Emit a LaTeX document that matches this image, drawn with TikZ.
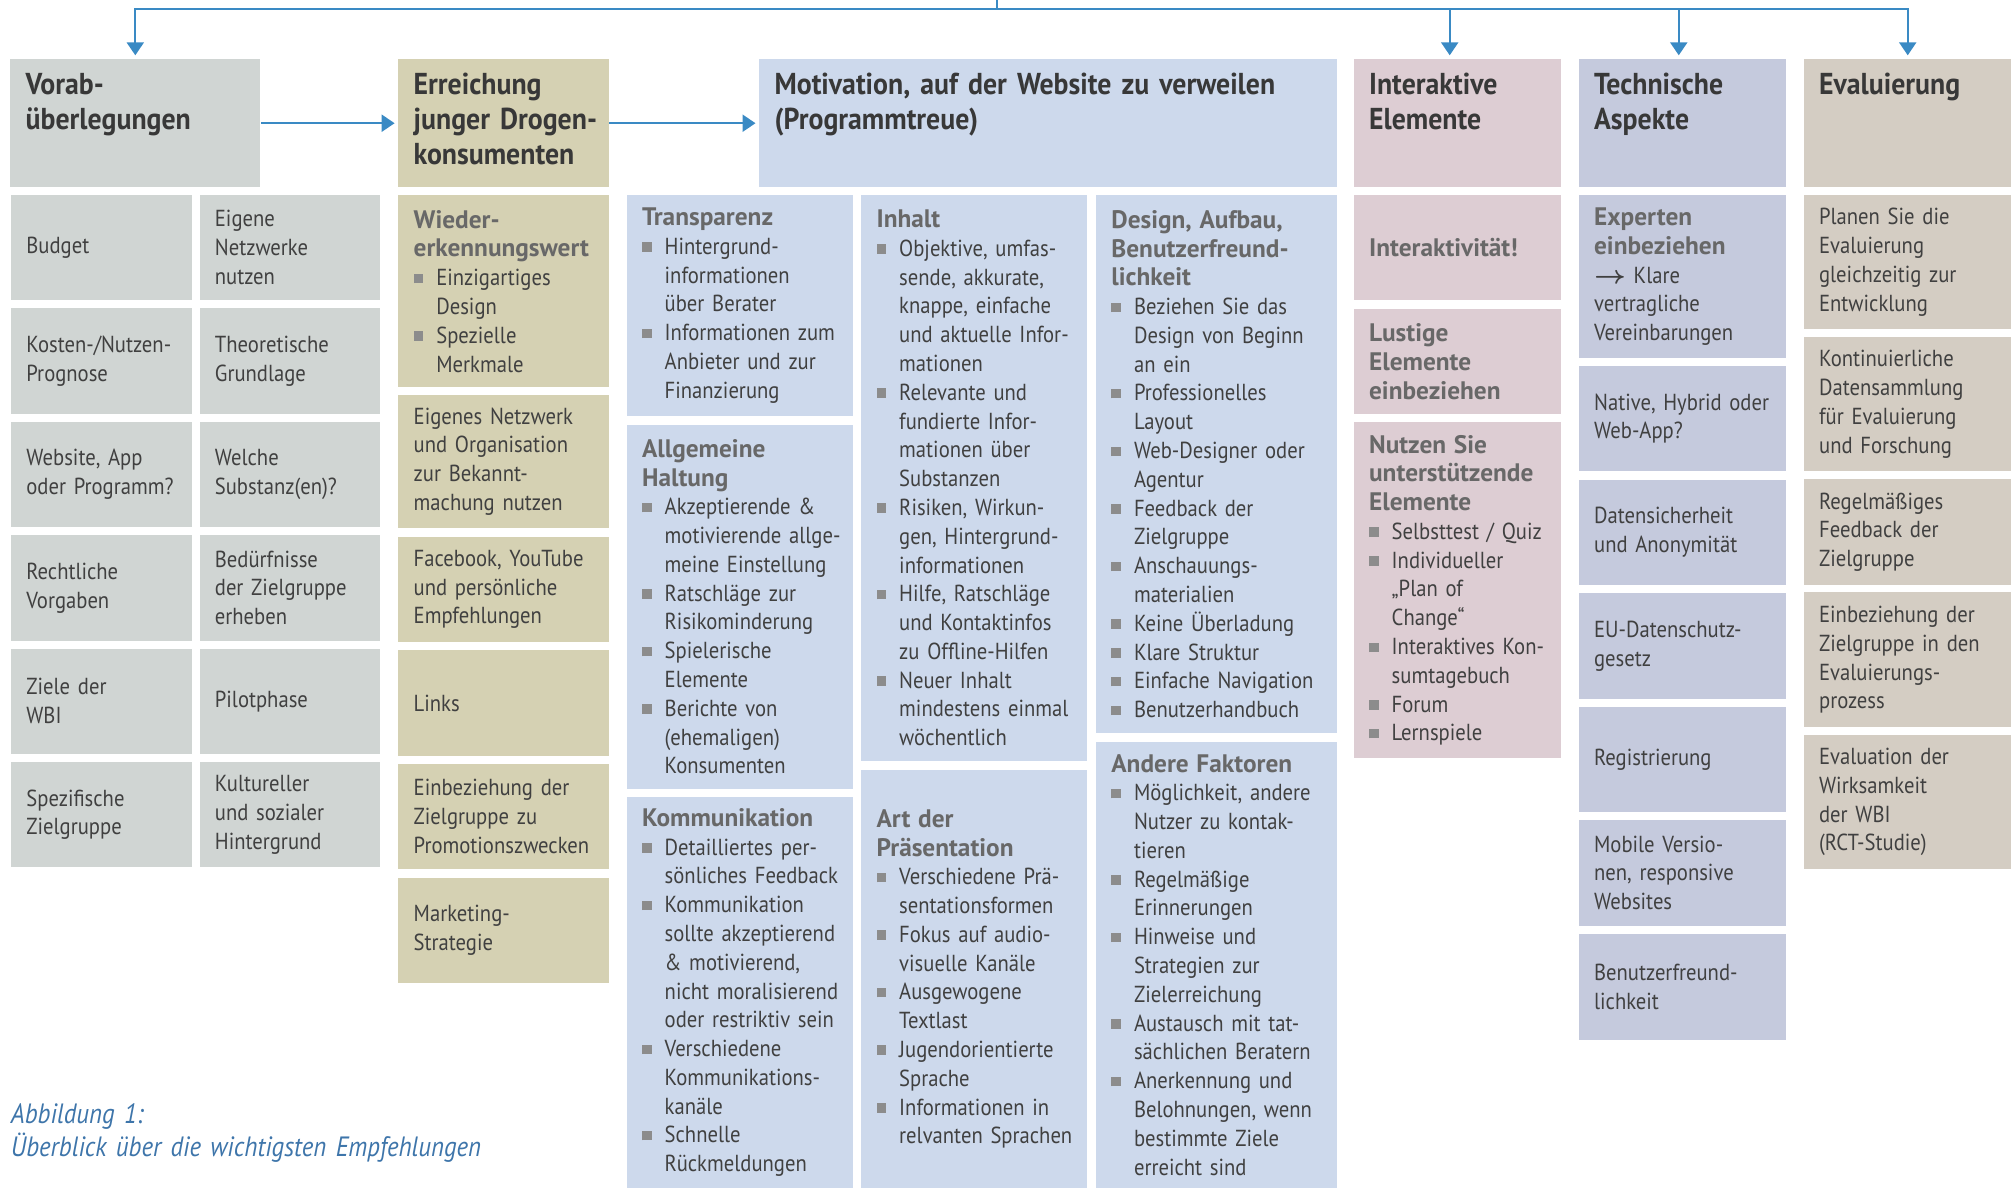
\documentclass[tikz,border=0pt]{standalone}
\usepackage{amsmath}
\usepackage{fontspec}
\setmainfont{PT Sans}[FakeStretch=0.89]
\newfontfamily\headfont{PT Sans}[FakeStretch=0.92]
\newfontfamily\subfont{PT Sans}[FakeStretch=1.0]
\usetikzlibrary{arrows.meta}
\hyphenpenalty=10000
\exhyphenpenalty=10000

\definecolor{vorabc}{HTML}{D0D5D3}
\definecolor{errc}{HTML}{D5D1B3}
\definecolor{motc}{HTML}{CDD9EC}
\definecolor{interc}{HTML}{DDCDD3}
\definecolor{techc}{HTML}{C5CADD}
\definecolor{evalc}{HTML}{D4CDC3}
\definecolor{arrowc}{HTML}{3A8AC4}
\definecolor{capc}{HTML}{3E75AA}
\definecolor{hdtxt}{HTML}{383838}
\definecolor{bodytxt}{HTML}{404040}
\definecolor{subc}{HTML}{686868}
\definecolor{bulc}{HTML}{8C8C8C}

% Aufzaehlungspunkt und Zwischentitel
\newcommand\bl[1]{\par\hangindent=2.26mm\hangafter=1\noindent
  \makebox[2.26mm][l]{\textcolor{bulc}{\rule[0.25mm]{0.95mm}{0.95mm}}}{\let\\\newline #1}\par}
\newcommand\subhd[1]{{\color{subc}\subfont\bfseries\fontsize{7.2}{8.19}\selectfont #1\par}}

\begin{document}
\begin{tikzpicture}[x=0.1mm, y=-0.1mm, >={Triangle[length=1.3mm,width=1.7mm]},
  conn/.style={draw=arrowc, line width=0.65pt},
  arr/.style={conn, ->, shorten >=0.3mm},
  head/.style={anchor=north west, inner sep=0pt, align=left,
    text height=3.5mm, text depth=9.34mm,
    execute at begin node={\leftskip=1.54mm},
    font=\headfont\bfseries\fontsize{8.6}{9.96}\selectfont, text=hdtxt},
  cell/.style={anchor=north west, inner sep=0pt, align=left,
    minimum height=10.53mm, execute at begin node={\leftskip=1.54mm},
    font=\fontsize{6.6}{8.19}\selectfont, text=bodytxt},
  vcell/.style={cell, fill=vorabc, text width=18.08mm},
  ecell/.style={cell, fill=errc, text width=21.03mm},
  mcell/.style={cell, fill=motc, text width=22.6mm},
  dcell/.style={cell, fill=motc, text width=24.12mm},
  icell/.style={cell, fill=interc, text width=20.7mm},
  tcell/.style={cell, fill=techc, text width=20.75mm},
  evcell/.style={cell, fill=evalc, text width=20.8mm}]
\useasboundingbox (0,0) rectangle (2011,1187);

% Kopfzeile
\node[head, fill=vorabc, text width=25.0mm] (vorabH) at (9.6,58.3) {Vorab-\\überlegungen};
\node[head, fill=errc, text width=21.03mm] (erreH) at (397.6,58.3) {Erreichung\\junger Drogen-\\konsumenten};
\node[head, fill=motc, text width=57.8mm] (motH) at (758.5,58.3) {Motivation, auf der Website zu verweilen\\(Programmtreue)};
\node[head, fill=interc, text width=20.7mm] (interH) at (1353,58.3) {Interaktive\\Elemente};
\node[head, fill=techc, text width=20.75mm] (techH) at (1578,58.3) {Technische\\Aspekte};
\node[head, fill=evalc, text width=20.8mm] (evalH) at (1803,58.3) {Evaluierung};

% Pfeile
\coordinate (quelle) at (996.7,0);
\coordinate (bus) at (996.7,9);
\draw[conn] (quelle) -- (bus);
\draw[arr] (bus) -| (vorabH.north);
\draw[arr] (bus) -| ([xshift=-0.75mm]interH.north);
\draw[arr] (bus) -| ([xshift=-0.37mm]techH.north);
\draw[arr] (bus) -| (evalH.north);
\draw[arr] (vorabH.east) -- (erreH.west);
\draw[arr] (erreH.east) -- (motH.west);

% Vorabueberlegungen
\node[vcell] (budget) at (10.3,194.3) {Budget};
\node[vcell] (netzwerke) at (198.8,194.3) {Eigene\\Netzwerke\\nutzen};
\node[vcell] (kosten) at (10.3,307.7) {Kosten-/Nutzen-\\Prognose};
\node[vcell] (theorie) at (198.8,307.7) {Theoretische\\Grundlage};
\node[vcell] (website) at (10.3,421.1) {Website, App\\oder Programm?};
\node[vcell] (substanz) at (198.8,421.1) {Welche\\Substanz(en)?};
\node[vcell] (recht) at (10.3,534.5) {Rechtliche\\Vorgaben};
\node[vcell] (beduerf) at (198.8,534.5) {Bedürfnisse\\der Zielgruppe\\erheben};
\node[vcell] (ziele) at (10.3,647.9) {Ziele der\\WBI};
\node[vcell] (pilot) at (198.8,647.9) {Pilotphase};
\node[vcell] (zielgr) at (10.3,761.3) {Spezifische\\Zielgruppe};
\node[vcell] (kultur) at (198.8,761.3) {Kultureller\\und sozialer\\Hintergrund};

% Erreichung
\node[ecell, minimum height=19.24mm] (wieder) at (397.6,194.3) {\subhd{Wieder-\\erkennungswert}\bl{Einzigartiges\\Design}\bl{Spezielle\\Merkmale}};
\node[ecell, minimum height=13.3mm] (eignetz) at (397.6,394.3) {Eigenes Netzwerk\\und Organisation\\zur Bekannt-\\machung nutzen};
\node[ecell, minimum height=10.58mm] (facebook) at (397.6,535.8) {Facebook, YouTube\\und persönliche\\Empfehlungen};
\node[ecell] (links) at (397.6,649.6) {Links};
\node[ecell] (promo) at (397.6,763) {Einbeziehung der\\Zielgruppe zu\\Promotionszwecken};
\node[ecell, minimum height=10.5mm] (marketing) at (397.6,877) {Marketing-\\Strategie};

% Motivation
\node[mcell, minimum height=22.05mm] (transp) at (626,194.5) {\subhd{Transparenz}\bl{Hintergrund-\\informationen\\über Berater}\bl{Informationen zum\\Anbieter und zur\\Finanzierung}};
\node[mcell, minimum height=36.4mm] (haltung) at (626,424) {\subhd{Allgemeine\\Haltung}\bl{Akzeptierende \&\\motivierende allge-\\meine Einstellung}\bl{Ratschläge zur\\Risikominderung}\bl{Spielerische\\Elemente}\bl{Berichte von\\(ehemaligen)\\Konsumenten}};
\node[mcell, minimum height=39.05mm] (kommu) at (626,796.5) {\subhd{Kommunikation}\bl{Detailliertes per-\\sönliches Feedback}\bl{Kommunikation\\sollte akzeptierend\\\& motivierend,\\nicht moralisierend\\oder restriktiv sein}\bl{Verschiedene\\Kommunikations-\\kanäle}\bl{Schnelle\\Rückmeldungen}};
\node[mcell, minimum height=56.55mm] (inhalt) at (860.5,194.5) {\subhd{Inhalt}\bl{Objektive, umfas-\\sende, akkurate,\\knappe, einfache\\und aktuelle Infor-\\mationen}\bl{Relevante und\\fundierte Infor-\\mationen über\\Substanzen}\bl{Risiken, Wirkun-\\gen, Hintergrund-\\informationen}\bl{Hilfe, Ratschläge\\und Kontaktinfos\\zu Offline-Hilfen}\bl{Neuer Inhalt\\mindestens einmal\\wöchentlich}};
\node[mcell, minimum height=41.76mm] (praes) at (860.5,769.4) {\subhd{Art der\\Präsentation}\bl{Verschiedene Prä-\\sentationsformen}\bl{Fokus auf audio-\\visuelle Kanäle}\bl{Ausgewogene\\Textlast}\bl{Jugendorientierte\\Sprache}\bl{Informationen in\\relvanten Sprachen}};
\node[dcell, minimum height=53.77mm] (design) at (1095.3,194.5) {\subhd{Design, Aufbau,\\Benutzerfreund-\\lichkeit}\bl{Beziehen Sie das\\Design von Beginn\\an ein}\bl{Professionelles\\Layout}\bl{Web-Designer oder\\Agentur}\bl{Feedback der\\Zielgruppe}\bl{Anschauungs-\\materialien}\bl{Keine Überladung}\bl{Klare Struktur}\bl{Einfache Navigation}\bl{Benutzerhandbuch}};
\node[dcell, minimum height=44.6mm] (andere) at (1095.3,741) {\subhd{Andere Faktoren}\bl{Möglichkeit, andere\\Nutzer zu kontak-\\tieren}\bl{Regelmäßige\\Erinnerungen}\bl{Hinweise und\\Strategien zur\\Zielerreichung}\bl{Austausch mit tat-\\sächlichen Beratern}\bl{Anerkennung und\\Belohnungen, wenn\\bestimmte Ziele\\erreicht sind}};

% Interaktive Elemente
\node[icell, minimum height=10.5mm] (interakt) at (1353,194.5) {\subhd{Interaktivität!}};
\node[icell, minimum height=10.48mm] (lustig) at (1353,308.6) {\subhd{Lustige\\Elemente\\einbeziehen}};
\node[icell, minimum height=33.6mm] (nutzen) at (1353,421.5) {\subhd{Nutzen Sie\\unterstützende\\Elemente}\bl{Selbsttest / Quiz}\bl{Individueller\\„Plan of\\Change“}\bl{Interaktives Kon-\\sumtagebuch}\bl{Forum}\bl{Lernspiele}};

% Technische Aspekte
\node[tcell, minimum height=16.34mm] (experten) at (1578,194.3) {\subhd{Experten\\einbeziehen}$\boldsymbol{\rightarrow}$ Klare\\vertragliche\\Vereinbarungen};
\node[tcell] (native) at (1578,365.3) {Native, Hybrid oder\\Web-App?};
\node[tcell] (datensich) at (1578,479) {Datensicherheit\\und Anonymität};
\node[tcell] (eugesetz) at (1578,592.5) {EU-Datenschutz-\\gesetz};
\node[tcell] (regist) at (1578,706) {Registrierung};
\node[tcell, minimum height=10.6mm] (mobile) at (1578,819) {Mobile Versio-\\nen, responsive\\Websites};
\node[tcell, minimum height=10.6mm] (benutzer) at (1578,933) {Benutzerfreund-\\lichkeit};

% Evaluierung
\node[evcell, minimum height=13.44mm] (planen) at (1803,194.3) {Planen Sie die\\Evaluierung\\gleichzeitig zur\\Entwicklung};
\node[evcell, minimum height=13.43mm] (kontin) at (1803,336.3) {Kontinuierliche\\Datensammlung\\für Evaluierung\\und Forschung};
\node[evcell] (regelm) at (1803,478.7) {Regelmäßiges\\Feedback der\\Zielgruppe};
\node[evcell, minimum height=13.48mm] (evaleinbez) at (1803,591.6) {Einbeziehung der\\Zielgruppe in den\\Evaluierungs-\\prozess};
\node[evcell, minimum height=13.47mm] (wirksam) at (1803,734) {Evaluation der\\Wirksamkeit\\der WBI\\(RCT-Studie)};

% Bildunterschrift
\node[anchor=base west, inner sep=0pt, align=left, text width=80mm,
  font=\itshape\fontsize{7.95}{9.5}\selectfont, text=capc] (caption) at (10.2,1123.3)
  {Abbildung 1:\\Überblick über die wichtigsten Empfehlungen};
\end{tikzpicture}
\end{document}
